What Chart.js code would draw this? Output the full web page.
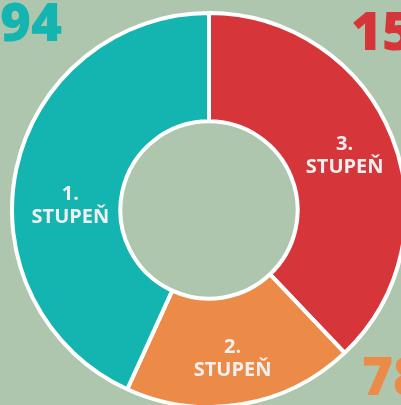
<!DOCTYPE html>
<html>
<head>
<meta charset="utf-8">
<script src="https://cdn.jsdelivr.net/npm/chart.js@4"></script>
<style>
  html, body { margin: 0; padding: 0; }
  body { width: 401px; height: 405px; overflow: hidden; position: relative; background: #adc6ad; font-family: "Open Sans", sans-serif; }
  #wrap { position: absolute; left: 10px; top: 11px; width: 398px; height: 398px; }
  .num { position: absolute; font-family: "Open Sans", sans-serif; font-weight: 800; font-size: 53px; line-height: 1; white-space: nowrap; }
</style>
</head>
<body>
<div id="wrap"><canvas id="myChart"></canvas></div>
<div class="num" id="n3" style="left:351px; top:3px;"></div>
<div class="num" id="n2" style="left:362px; top:348px;"></div>
<div class="num" id="n1" style="right:339px; top:-6px;"></div>
<script>
// clockwise from the top: 3., 2., 1. stupeň
const labels = ['3. STUPEŇ', '2. STUPEŇ', '1. STUPEŇ'];
const values = [1575, 785, 1794];
const colors = ['#d63639', '#eb8b47', '#14b5b0'];

document.getElementById('n3').textContent = values[0];
document.getElementById('n3').style.color = colors[0];
document.getElementById('n2').textContent = values[1];
document.getElementById('n2').style.color = colors[1];
document.getElementById('n1').textContent = values[2];
document.getElementById('n1').style.color = colors[2];

const sliceLabels = {
	id: 'sliceLabels',
	afterDatasetsDraw(chart) {
		const c = chart.ctx;
		const meta = chart.getDatasetMeta(0);
		const dy = [-2, 7, 26];
		const dx = [3, 0, 1];
		c.save();
		c.fillStyle = '#efefef';
		c.font = 'bold 20px "Open Sans", sans-serif';
		c.textAlign = 'center';
		c.textBaseline = 'middle';
		meta.data.forEach((arc, i) => {
			const p = arc.tooltipPosition();
			const parts = chart.data.labels[i].split(' ');
			c.fillText(parts[0], p.x + dx[i], p.y + dy[i] - 11);
			c.fillText(parts[1], p.x + dx[i], p.y + dy[i] + 12);
		});
		c.restore();
	}
};

new Chart(document.getElementById('myChart'), {
	type: 'doughnut',
	data: {
		labels: labels,
		datasets: [{
			data: values,
			backgroundColor: colors,
			borderColor: '#ffffff',
			borderWidth: 4
		}]
	},
	options: {
		responsive: true,
		maintainAspectRatio: false,
		animation: false,
		cutout: '45%',
		layout: { padding: 0 },
		plugins: {
			legend: { display: false },
			tooltip: { enabled: false }
		}
	},
	plugins: [sliceLabels]
});
</script>
</body>
</html>
